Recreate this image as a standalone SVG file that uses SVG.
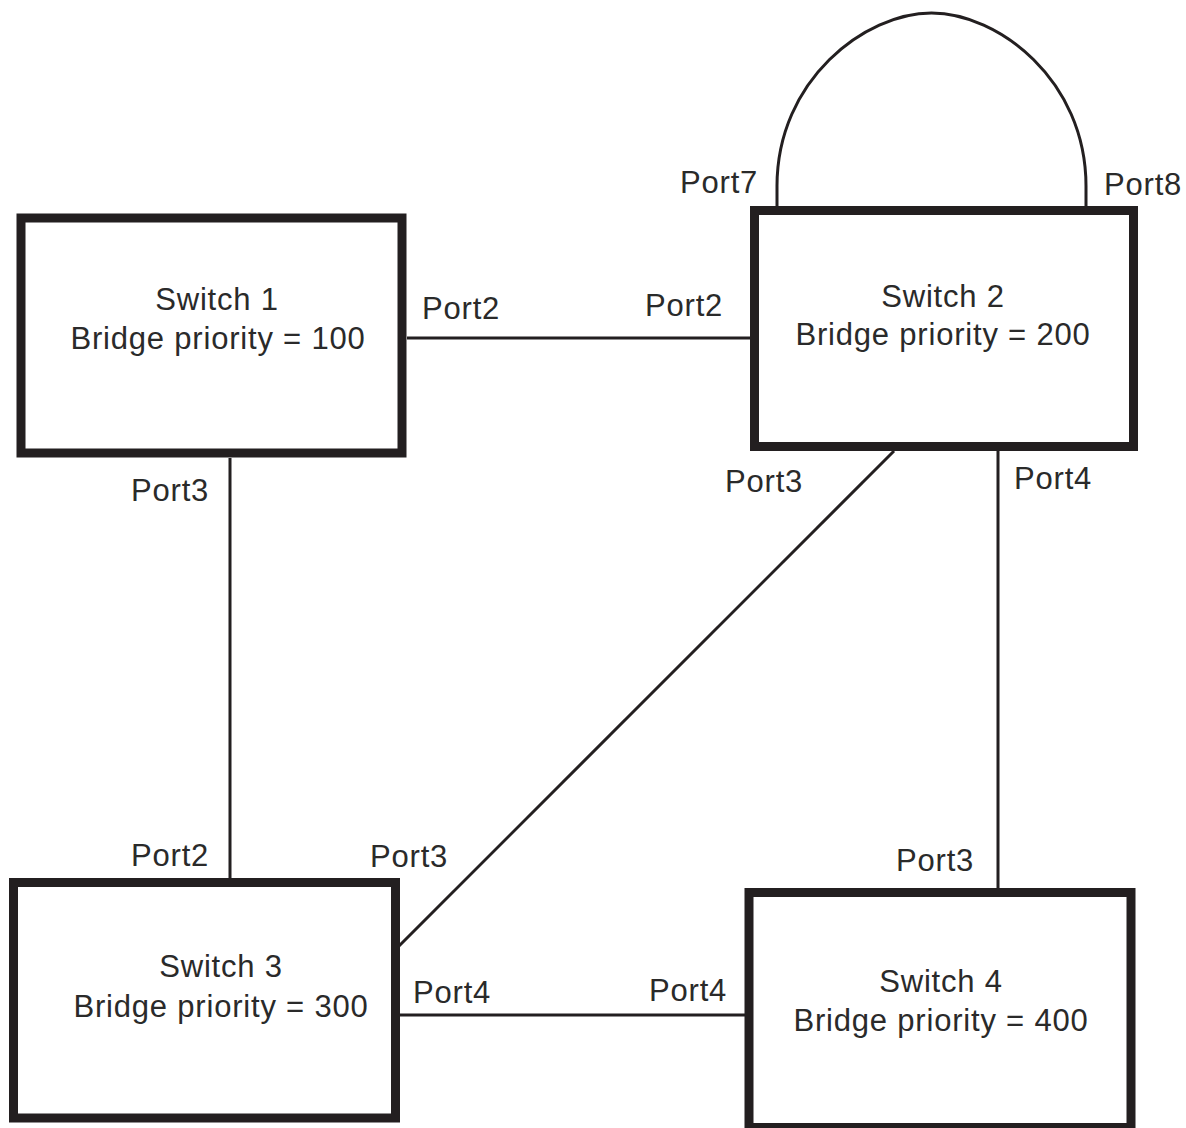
<svg xmlns="http://www.w3.org/2000/svg" width="1186" height="1128" viewBox="0 0 1186 1128">
<style>
.box{fill:#fff;stroke:#231f20;stroke-width:9}
.ln{fill:none;stroke:#231f20;stroke-width:3}
text{font-family:"Liberation Sans",Arial,sans-serif;font-size:31px;fill:#2a2a2a;letter-spacing:0.8px}
.c{text-anchor:middle}
</style>
<rect width="1186" height="1128" fill="#fff"/>
<g id="connectors">
<line class="ln" x1="407" y1="338" x2="750" y2="338"/>
<line class="ln" x1="230" y1="458" x2="230" y2="878"/>
<line class="ln" x1="894" y1="451" x2="398" y2="947"/>
<line class="ln" x1="998" y1="451" x2="998" y2="888"/>
<line class="ln" x1="400" y1="1015" x2="745" y2="1015"/>
<path class="ln" d="M777,210 L777,186 C777,80 865,13 931.5,13 C998,13 1086,80 1086,186 L1086,210"/>
</g>
<g id="switch1">
<rect class="box" x="21" y="218" width="381" height="235"/>
<text class="c" x="217" y="310">Switch 1</text>
<text class="c" x="218" y="349">Bridge priority = 100</text>
</g>
<g id="switch2">
<rect class="box" x="754.5" y="210.5" width="379" height="236"/>
<text class="c" x="943" y="307">Switch 2</text>
<text class="c" x="943" y="345">Bridge priority = 200</text>
</g>
<g id="switch3">
<rect class="box" x="13.5" y="882.5" width="382" height="235.5"/>
<text class="c" x="221" y="977">Switch 3</text>
<text class="c" x="221" y="1017">Bridge priority = 300</text>
</g>
<g id="switch4">
<rect class="box" x="749" y="892.5" width="382" height="235"/>
<text class="c" x="941" y="992">Switch 4</text>
<text class="c" x="941" y="1031">Bridge priority = 400</text>
</g>
<g id="labels">
<text x="422" y="319">Port2</text>
<text x="645" y="316">Port2</text>
<text x="680" y="193">Port7</text>
<text x="1104" y="195">Port8</text>
<text x="131" y="501">Port3</text>
<text x="725" y="492">Port3</text>
<text x="1014" y="489">Port4</text>
<text x="131" y="866">Port2</text>
<text x="370" y="867">Port3</text>
<text x="896" y="871">Port3</text>
<text x="413" y="1003">Port4</text>
<text x="649" y="1001">Port4</text>
</g>
</svg>
